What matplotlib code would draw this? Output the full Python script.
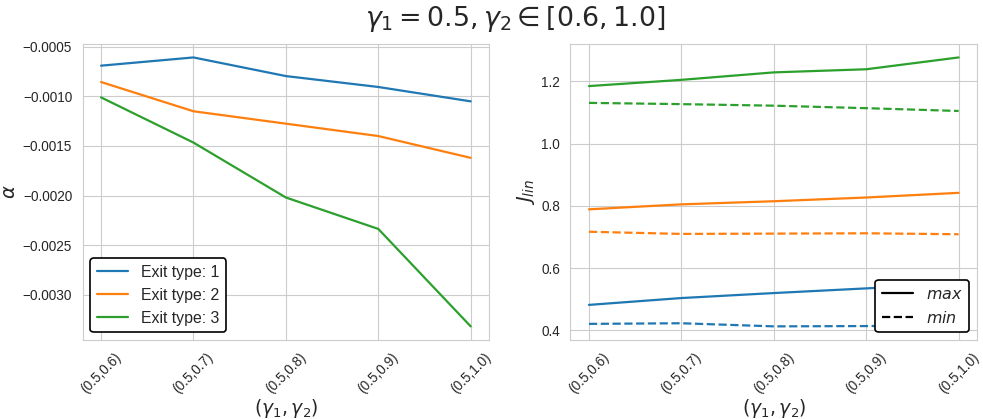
import matplotlib
matplotlib.use("Agg")
import matplotlib.pyplot as plt
import seaborn as sns
from matplotlib.lines import Line2D

sns.set_style("whitegrid")
plt.rcParams['font.family'] = ['Liberation Sans', 'DejaVu Sans']
plt.rcParams['mathtext.fontset'] = 'dejavusans'

categories = ["(0.5,0.6)", "(0.5,0.7)", "(0.5,0.8)", "(0.5,0.9)", "(0.5,1.0)"]
alpha_1 = [-0.00069, -0.000607, -0.000795, -0.000905, -0.00105]
alpha_2 = [-0.000855, -0.00115, -0.001275, -0.0014, -0.00162]
alpha_3 = [-0.00101, -0.001466, -0.00202, -0.002337, -0.00332]

jmax_1 = [0.482, 0.504, 0.520, 0.535, 0.550]
jmin_1 = [0.421, 0.423, 0.413, 0.414, 0.415]
jmax_2 = [0.789, 0.805, 0.815, 0.827, 0.842]
jmin_2 = [0.717, 0.710, 0.711, 0.712, 0.709]
jmax_3 = [1.185, 1.205, 1.229, 1.239, 1.277]
jmin_3 = [1.131, 1.127, 1.122, 1.114, 1.105]

colors = ["#1f77b4", "#ff7f0e", "#2ca02c"]

fig, (ax1, ax2) = plt.subplots(1, 2, figsize=(9.83, 4.19), dpi=100)
fig.subplots_adjust(left=0.084, right=0.994, top=0.895, bottom=0.189, wspace=0.2)

TICK = 9.8
x = list(range(len(categories)))
for i, a in enumerate([alpha_1, alpha_2, alpha_3]):
    ax1.plot(x, a, color=colors[i], lw=1.6, label=f"Exit type: {i+1}")
ax1.set_ylabel(r"$\alpha$", fontsize=14, labelpad=3)
ax1.set_xlabel(r"$(\gamma_1, \gamma_2)$", fontsize=13.5, labelpad=1)
ax1.set_xticks(x)
ax1.set_xticklabels(categories, rotation=45)
ax1.tick_params(labelsize=TICK, pad=4)
leg = ax1.legend(loc="lower left", fontsize=11.4, frameon=True, edgecolor="black", framealpha=1)
leg.get_frame().set_linewidth(1.2)

for i, (mx, mn) in enumerate([(jmax_1, jmin_1), (jmax_2, jmin_2), (jmax_3, jmin_3)]):
    ax2.plot(x, mx, color=colors[i], lw=1.6, ls="-")
    ax2.plot(x, mn, color=colors[i], lw=1.6, ls="--")
ax2.set_ylabel(r"$J_{lin}$", fontsize=14, labelpad=3)
ax2.set_xlabel(r"$(\gamma_1, \gamma_2)$", fontsize=13.5, labelpad=1)
ax2.set_xticks(x)
ax2.set_xticklabels(categories, rotation=45)
ax2.tick_params(labelsize=TICK, pad=4)
handles = [Line2D([0], [0], color="black", ls="-", lw=1.6),
           Line2D([0], [0], color="black", ls="--", lw=1.6)]
leg2 = ax2.legend(handles, [r"$max$", r"$min$"], loc="lower right", fontsize=11.4,
                  frameon=True, edgecolor="black", framealpha=1)
leg2.get_frame().set_linewidth(1.2)

fig.suptitle(r"$\gamma_1 = 0.5, \gamma_2 \in [0.6, 1.0]$", fontsize=19.4, x=0.524, y=0.99)

fig.savefig("out.png", dpi=100)
